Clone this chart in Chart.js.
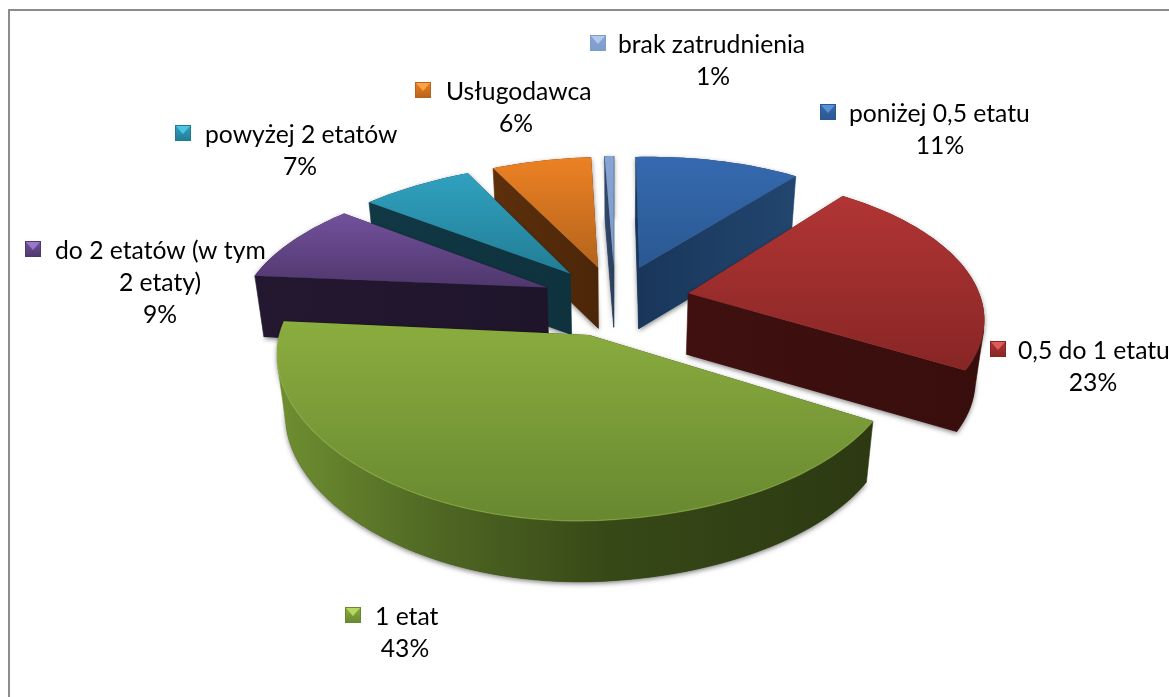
<!DOCTYPE html>
<html><head><meta charset="utf-8">
<style>html,body{margin:0;padding:0;background:#fff}canvas{display:block}</style>
<script src="https://cdn.jsdelivr.net/npm/chart.js@4"></script>
</head><body>
<canvas id="c" width="1169" height="697"></canvas>
<script>
const categories = ["poniżej 0,5 etatu","0,5 do 1 etatu","1 etat","do 2 etatów (w tym 2 etaty)","powyżej 2 etatów","Usługodawca","brak zatrudnienia"];
const values = [11,23,43,9,7,6.4,0.6];
const topLight = ["#3569b0","#b13534","#8bad3f","#72519c","#30a1c0","#ec8124","#86a5d6"];
const topDark  = ["#2a5890","#872625","#688830","#50376d","#227d94","#b4641c","#7d9ccb"];
const wallLeft = ["#19365a","#3f100f","#6f8f31","#231830","#113845","#5e300c","#33496a"];
const wallRight= ["#22466f","#380e0d","#2c3912","#1f152b","#0e323e","#4b2608","#2a3e5c"];
const drawOrder = [6,5,0,4,3,1,2];
const labelLines = [["poniżej 0,5 etatu"],["0,5 do 1 etatu"],["1 etat"],["do 2 etatów (w tym","2 etaty)"],["powyżej 2 etatów"],["Usługodawca"],["brak zatrudnienia"]];
// key x, key y, first-line left x, percent/extra line centre x, first-line centre y
const labelBoxes = [[820,104,849,940,114],[990,341,1018,1093,351],[345,607,375,405,617],[25,241,55,160,251],[175,125,205,300,135],[415,82,446,516,92],[590,35,618,713,45]];
const keyLight = ["#5b8fd6","#e05a58","#b5d95e","#9a78c8","#4cc4e2","#ffa246","#b3c8ea"];

const V = {cx:615, cy:300, k:297, q:140, p:0.173, depth:61, shrink:0.975, bowL:7, bowR:4, roll:5, frontLeft:30};
function project(u,v,bottom){
  const w = 1 - V.p*v;
  const X = V.k*u/w - (u<0?V.bowL:V.bowR)*u*u + V.frontLeft*Math.max(0,-u)*Math.max(0,v);
  const Y = V.q*v/w - V.roll*u;
  return {x:V.cx + X*(bottom?V.shrink:1), y:V.cy + Y + (bottom?V.depth:0)};
}
function poly(ctx,pts){ctx.beginPath();pts.forEach((p,i)=>i?ctx.lineTo(p.x,p.y):ctx.moveTo(p.x,p.y));ctx.closePath();}
function area(pts){let a=0;for(let i=0;i<pts.length;i++){const p=pts[i],q=pts[(i+1)%pts.length];a+=p.x*q.y-q.x*p.y;}return a/2;}

const pie3d = {
  id:'pie3d',
  beforeDatasetsDraw(chart){
    const ctx = chart.ctx, arcs = chart.getDatasetMeta(0).data;
    ctx.save();
    ctx.fillStyle='#8c8c8c';
    ctx.fillRect(8,9,1161,2);
    ctx.fillRect(8,9,2,688);
    drawOrder.forEach(i=>{
      const el = arcs[i], e = el.options.offset/el.outerRadius;
      const mid=(el.startAngle+el.endAngle)/2, ou=Math.cos(mid)*e, ov=Math.sin(mid)*e;
      const n=Math.max(6,Math.round((el.endAngle-el.startAngle)*40));
      const plane=[[ou,ov]];
      for(let j=0;j<=n;j++){const t=el.startAngle+(el.endAngle-el.startAngle)*j/n;plane.push([ou+Math.cos(t),ov+Math.sin(t)]);}
      const T=plane.map(a=>project(a[0],a[1],false)), B=plane.map(a=>project(a[0],a[1],true));
      ctx.save();
      ctx.shadowColor='rgba(0,0,0,0.5)';ctx.shadowBlur=5;ctx.shadowOffsetY=2;ctx.fillStyle=wallRight[i];
      ctx.beginPath();
      for(let j=0;j<T.length;j++){const a=T[j],b=T[(j+1)%T.length],c=B[(j+1)%T.length],d=B[j];
        ctx.moveTo(a.x,a.y);ctx.lineTo(b.x,b.y);ctx.lineTo(c.x,c.y);ctx.lineTo(d.x,d.y);ctx.closePath();}
      ctx.fill('nonzero');
      ctx.restore();
      const m=T.length;
      const quad=j=>{const k=(j+1)%m;return [T[j],T[k],B[k],B[j]];};
      const face=j=>area(quad(j))<0;
      const xs=T.map(p=>p.x), minX=Math.min(...xs), maxX=Math.max(...xs);
      const wg=ctx.createLinearGradient(minX,0,maxX,0);
      wg.addColorStop(0,wallLeft[i]);
      if(i===2){wg.addColorStop(0.27,'#4f6723');wg.addColorStop(0.55,'#374917');}
      wg.addColorStop(1,wallRight[i]);
      ctx.fillStyle=wg;ctx.strokeStyle=wg;ctx.lineWidth=0.6;
      [0,m-1].forEach(j=>{ if(face(j)){poly(ctx,quad(j));ctx.fill();ctx.stroke();} });
      let run=[];
      const flush=()=>{ if(run.length){
        const top=run.map(j=>T[j]).concat([T[run[run.length-1]+1]]);
        const bot=run.map(j=>B[j]).concat([B[run[run.length-1]+1]]);
        poly(ctx,top.concat(bot.reverse()));ctx.fill();ctx.stroke();run=[];} };
      for(let j=1;j<m-1;j++){ if(face(j)) run.push(j); else flush(); }
      flush();
      const ys=T.map(p=>p.y), g=ctx.createLinearGradient(0,Math.min(...ys),0,Math.max(...ys));
      g.addColorStop(0,topLight[i]);g.addColorStop(1,topDark[i]);
      ctx.fillStyle=g;poly(ctx,T);ctx.fill();
      if(i===2){
        ctx.beginPath();T.slice(1).forEach((p,j)=>j?ctx.lineTo(p.x,p.y):ctx.moveTo(p.x,p.y));
        ctx.strokeStyle='rgba(150,185,75,0.6)';ctx.lineWidth=1.2;ctx.stroke();
      }
    });
    ctx.restore();
    return false;
  },
  afterDraw(chart){
    const ctx=chart.ctx, meta=chart.getDatasetMeta(0), total=meta.total;
    ctx.save();
    ctx.font='24.7px Lato, sans-serif';ctx.fillStyle='#000';ctx.textBaseline='middle';
    categories.forEach((c,i)=>{
      const [kx,ky,tx,cx,ty]=labelBoxes[i], s=16;
      const g=ctx.createLinearGradient(0,ky,0,ky+s);g.addColorStop(0,topLight[i]);g.addColorStop(1,topDark[i]);
      ctx.fillStyle=g;ctx.fillRect(kx,ky,s,s);
      ctx.fillStyle=keyLight[i];ctx.beginPath();ctx.moveTo(kx+1,ky+1);ctx.lineTo(kx+s-1,ky+1);ctx.lineTo(kx+s/2,ky+s/2+1);ctx.closePath();ctx.fill();
      ctx.strokeStyle=topDark[i];ctx.lineWidth=1;ctx.strokeRect(kx+.5,ky+.5,s-1,s-1);
      ctx.fillStyle='#000';
      const lines=labelLines[i];
      ctx.textAlign='left';ctx.fillText(lines[0],tx,ty);
      ctx.textAlign='center';
      let y=ty;
      for(let l=1;l<lines.length;l++){y+=32;ctx.fillText(lines[l],cx,y);}
      y+=32;ctx.fillText(Math.round(values[i]/total*100)+'%',cx,y);
    });
    ctx.restore();
  }
};
new Chart(document.getElementById('c'),{
  type:'pie',
  data:{labels:categories,datasets:[{data:values,backgroundColor:topLight,offset:78,borderWidth:0}]},
  options:{responsive:false,animation:false,layout:{padding:0},
    plugins:{legend:{display:false},tooltip:{enabled:false}}},
  plugins:[pie3d]
});
</script>
</body></html>
